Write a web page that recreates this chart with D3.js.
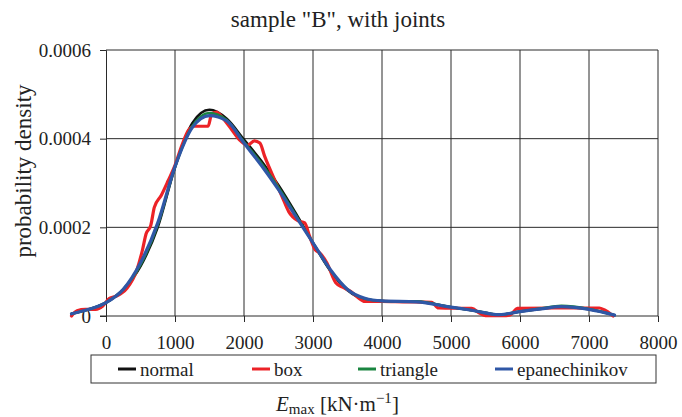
<!DOCTYPE html>
<html>
<head>
<meta charset="utf-8">
<script src="https://cdn.jsdelivr.net/npm/d3@7"></script>
<style>
  body { margin: 0; background: #fff; }
  text { font-family: "Liberation Serif", "Times New Roman", serif; fill: #222; }
</style>
</head>
<body>
<div class="chart"></div>
<script>
// data (density values in units of 1e-4)
var seriesNames = ["normal", "box", "triangle", "epanechinikov"];
var seriesColors = ["#111111", "#ec2227", "#1a8540", "#2f57a6"];

var smoothX = [-500, -250, 0, 250, 500, 750, 1000, 1250, 1500, 1750, 2000, 2250, 2500, 2750, 3000,
               3250, 3500, 3750, 4000, 4500, 5000, 5300, 5700, 6000, 6300, 6600, 7000, 7370];
var normalY = [0.05, 0.15, 0.3, 0.6, 1.12, 2.0, 3.35, 4.35, 4.65, 4.45, 3.98, 3.5, 2.95, 2.32, 1.65,
               1.02, 0.58, 0.38, 0.34, 0.32, 0.2, 0.13, 0.03, 0.1, 0.16, 0.21, 0.15, 0.02];
var triangleY = [0.05, 0.15, 0.3, 0.6, 1.15, 2.05, 3.36, 4.28, 4.58, 4.42, 3.93, 3.45, 2.9, 2.28, 1.65,
               1.04, 0.6, 0.39, 0.34, 0.33, 0.2, 0.13, 0.03, 0.1, 0.17, 0.23, 0.16, 0.02];
var epanY = [0.05, 0.15, 0.3, 0.6, 1.2, 2.1, 3.37, 4.25, 4.52, 4.4, 3.9, 3.4, 2.85, 2.25, 1.65,
               1.05, 0.6, 0.4, 0.34, 0.32, 0.2, 0.13, 0.03, 0.1, 0.16, 0.21, 0.15, 0.02];

var boxX = [-500, -420, -300, -150, -50, 50, 150, 300, 450, 530, 580, 650, 700, 800, 900, 1000, 1100,
            1200, 1280, 1480, 1530, 1600, 1700, 1800, 1950, 2050, 2150, 2230, 2300, 2450, 2550, 2650,
            2780, 2880, 2950, 3030, 3100, 3200, 3330, 3430, 3550, 3650, 3750, 4000, 4300, 4720, 4820,
            5300, 5420, 5500, 5800, 5880, 5960, 6500, 7150, 7220, 7350];
var boxY = [0.0, 0.12, 0.15, 0.15, 0.22, 0.4, 0.45, 0.62, 1.05, 1.5, 1.85, 2.05, 2.45, 2.72, 3.05, 3.4, 3.85,
            4.2, 4.28, 4.28, 4.55, 4.6, 4.45, 4.25, 3.95, 3.85, 3.95, 3.9, 3.6, 3.05, 2.7, 2.35,
            2.15, 2.1, 1.8, 1.5, 1.42, 1.2, 0.75, 0.65, 0.55, 0.42, 0.33, 0.33, 0.32, 0.31, 0.18,
            0.17, 0.06, 0.01, 0.01, 0.05, 0.17, 0.18, 0.18, 0.14, 0.0];

var xTicks = [0, 1000, 2000, 3000, 4000, 5000, 6000, 7000, 8000];
var yTicks = [0, 0.0002, 0.0004, 0.0006];

var w = 682;
var h = 417;

var svg = d3.select(".chart")
            .append("svg")
            .attr("width", w)
            .attr("height", h);

var xScale = d3.scaleLinear().domain([0, 8000]).range([106, 658]);
var yScale = d3.scaleLinear().domain([0, 0.0006]).range([316, 50]);

// gridlines
svg.append("g")
   .selectAll("line")
   .data(xTicks.slice(1))
   .enter().append("line")
   .attr("x1", (d) => xScale(d)).attr("x2", (d) => xScale(d))
   .attr("y1", yScale(0)).attr("y2", yScale(0.0006))
   .attr("stroke", "#2a2a2a").attr("stroke-width", 1);

svg.append("g")
   .selectAll("line")
   .data(yTicks.slice(1))
   .enter().append("line")
   .attr("x1", xScale(0)).attr("x2", xScale(8000))
   .attr("y1", (d) => yScale(d)).attr("y2", (d) => yScale(d))
   .attr("stroke", "#2a2a2a").attr("stroke-width", 1);

// axes
var yAxis = svg.append("g")
   .attr("transform", "translate(" + xScale(0) + ",0)")
   .call(d3.axisLeft(yScale).tickValues(yTicks).tickSize(6).tickPadding(9)
         .tickFormat((d) => d === 0 ? "0" : d3.format(".4f")(d)));
var xAxis = svg.append("g")
   .attr("transform", "translate(0," + yScale(0) + ")")
   .call(d3.axisBottom(xScale).tickValues(xTicks).tickSize(6).tickPadding(14)
         .tickFormat(d3.format("d")));
[xAxis, yAxis].forEach(function(a) {
  a.select(".domain").attr("stroke", "#2a2a2a");
  a.selectAll(".tick line").attr("stroke", "#2a2a2a");
  a.selectAll("text").style("font-family", "Liberation Serif").style("font-size", "19px").attr("fill", "#222");
});
xAxis.select(".domain").attr("d", "M" + (xScale(0) - 6) + ",0H" + xScale(8000));

// curves
var line = d3.line()
   .x((d) => xScale(d[0]))
   .y((d) => yScale(d[1] * 1e-4))
   .curve(d3.curveMonotoneX);

var curves = [
  {name: "normal", pts: d3.zip(smoothX, normalY), color: seriesColors[0], width: 2.5},
  {name: "box", pts: d3.zip(boxX, boxY), color: seriesColors[1], width: 3.2},
  {name: "triangle", pts: d3.zip(smoothX, triangleY), color: seriesColors[2], width: 2.5},
  {name: "epanechinikov", pts: d3.zip(smoothX, epanY), color: seriesColors[3], width: 3.2}
];

svg.append("g")
   .selectAll("path")
   .data(curves)
   .enter().append("path")
   .attr("d", (d) => line(d.pts))
   .attr("fill", "none")
   .attr("stroke", (d) => d.color)
   .attr("stroke-width", (d) => d.width)
   .attr("stroke-linejoin", "round")
   .attr("stroke-linecap", "round");

// title
svg.append("text")
   .attr("x", 338).attr("y", 27)
   .attr("text-anchor", "middle")
   .style("font-size", "23px")
   .text('sample "B", with joints');

// y axis title
svg.append("text")
   .attr("transform", "translate(31,171) rotate(-90)")
   .attr("text-anchor", "middle")
   .style("font-size", "23px")
   .text("probability density");

// legend
var legend = svg.append("g");
legend.append("rect")
   .attr("x", 91).attr("y", 355).attr("width", 565).attr("height", 28)
   .attr("fill", "#fff").attr("stroke", "#333").attr("stroke-width", 1);
var legendX = [118, 252, 358, 495];
var items = legend.selectAll("g.item")
   .data(seriesNames)
   .enter().append("g")
   .attr("transform", (d, i) => "translate(" + legendX[i] + ",369)");
items.append("line")
   .attr("x1", 0).attr("x2", 18)
   .attr("stroke", (d, i) => seriesColors[i])
   .attr("stroke-width", 3);
items.append("text")
   .attr("x", 22).attr("y", 7)
   .style("font-size", "19px")
   .text((d) => d);

// x axis title
var xt = svg.append("text")
   .attr("x", 276).attr("y", 411)
   .style("font-size", "21px");
xt.append("tspan").style("font-style", "italic").text("E");
xt.append("tspan").attr("dy", 3).style("font-size", "15px").text("max");
xt.append("tspan").attr("dy", -3).text(" [kN\u00b7m");
xt.append("tspan").attr("dy", -8).style("font-size", "15px").text("\u22121");
xt.append("tspan").attr("dy", 8).text("]");
</script>
</body>
</html>
